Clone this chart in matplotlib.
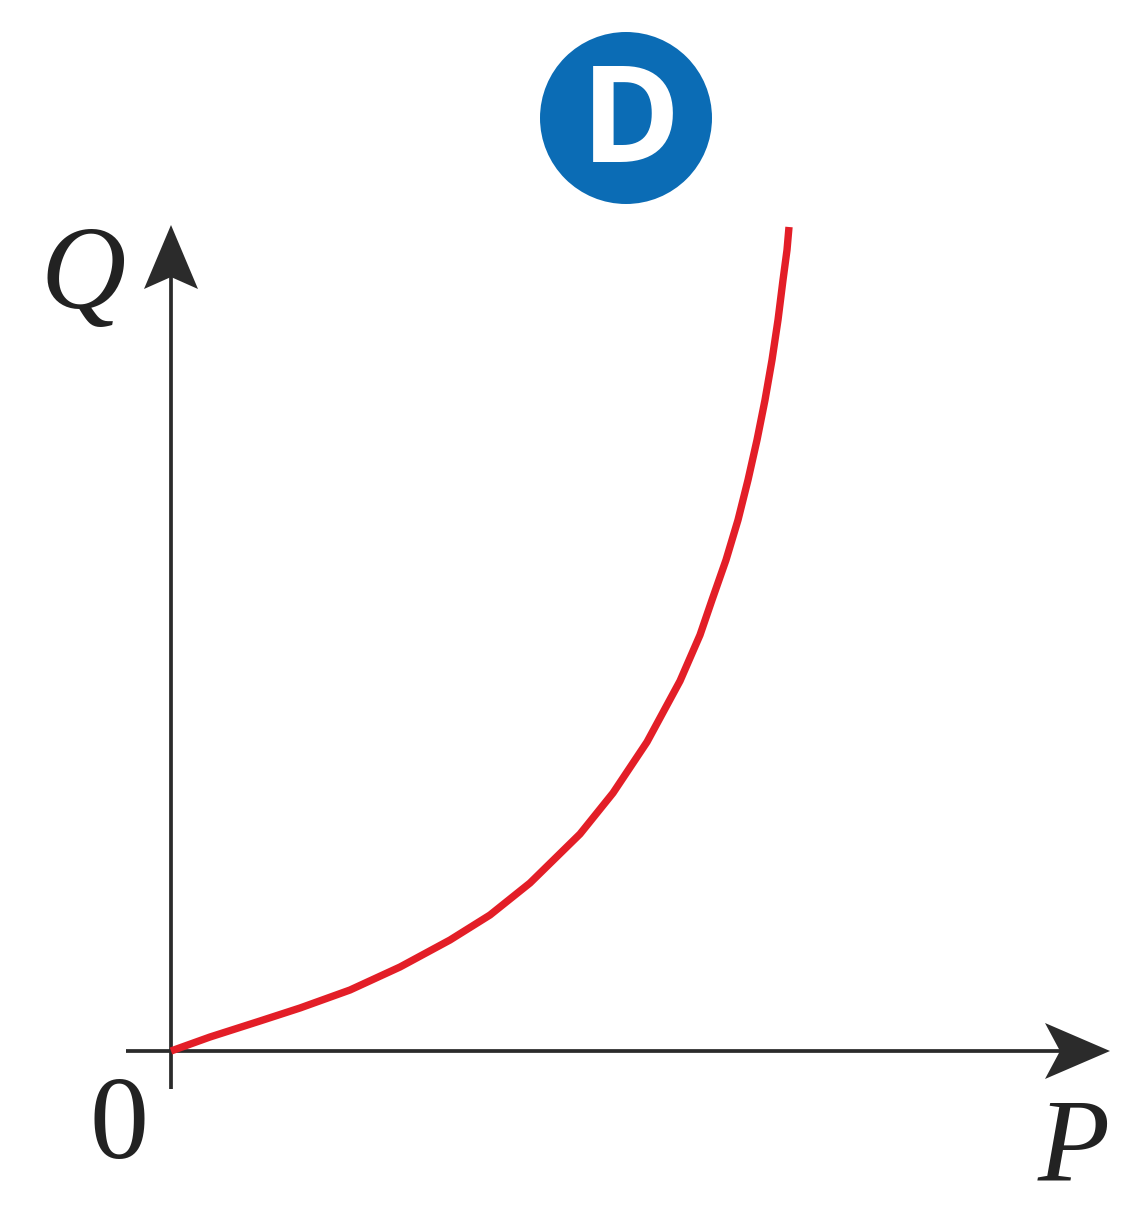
import numpy as np
import matplotlib
matplotlib.use("Agg")
import matplotlib.pyplot as plt
from matplotlib.patches import Circle, Polygon

# Кривая Q(P), значения (единица = 100 px)
p_vals = [0.00, 0.39, 0.89, 1.29, 1.79, 2.29, 2.79, 3.19, 3.59, 4.09,
          4.42, 4.76, 5.09, 5.29, 5.41, 5.55, 5.67, 5.77, 5.86, 5.94,
          6.01, 6.07, 6.12, 6.16, 6.18]
q_vals = [0.00, 0.14, 0.30, 0.43, 0.61, 0.84, 1.11, 1.36, 1.68, 2.17,
          2.58, 3.09, 3.70, 4.16, 4.51, 4.91, 5.31, 5.71, 6.11, 6.51,
          6.91, 7.31, 7.71, 8.01, 8.24]

x_label = "P"
y_label = "Q"
origin_label = "0"
badge = "D"

AX_COLOR = "#2b2b2b"
RED = "#e31e27"
BLUE = "#0b6cb5"

fig = plt.figure(figsize=(11.36, 12.05), dpi=100)
ax = fig.add_axes([0, 0, 1, 1])
ax.set_xlim(-1.71, 9.65)
ax.set_ylim(-1.54, 10.51)
ax.set_aspect("equal")
ax.axis("off")

# оси
x_tip, y_tip = 9.39, 8.26
ax.plot([-0.45, x_tip - 0.4], [0, 0], color=AX_COLOR, lw=2.7, solid_capstyle="butt")
ax.plot([0, 0], [-0.38, y_tip - 0.4], color=AX_COLOR, lw=2.7, solid_capstyle="butt")

# стрелки
ax.add_patch(Polygon([(x_tip, 0), (x_tip - 0.65, 0.28), (x_tip - 0.50, 0),
                      (x_tip - 0.65, -0.28)], closed=True, color=AX_COLOR, lw=0))
ax.add_patch(Polygon([(0, y_tip), (0.27, y_tip - 0.64), (0, y_tip - 0.52),
                      (-0.27, y_tip - 0.64)], closed=True, color=AX_COLOR, lw=0))

# кривая
ax.plot(p_vals, q_vals, color=RED, lw=5.3, solid_capstyle="butt", solid_joinstyle="round")

# подписи
txt = dict(family="Liberation Serif", fontsize=85, color="#222222", va="baseline", ha="center")
ax.text(-0.88, 7.43, y_label, style="italic", **txt)
ax.text(9.03, -1.29, x_label, style="italic", **txt)
ax.text(-0.52, -1.07, origin_label, **txt)

# значок D
ax.add_patch(Circle((4.55, 9.33), 0.86, color=BLUE, lw=0))
ax.text(4.60, 8.89, badge, family="Open Sans", fontweight="bold", fontsize=97,
        color="white", ha="center", va="baseline")

fig.savefig("out.png", dpi=100, facecolor="white")
